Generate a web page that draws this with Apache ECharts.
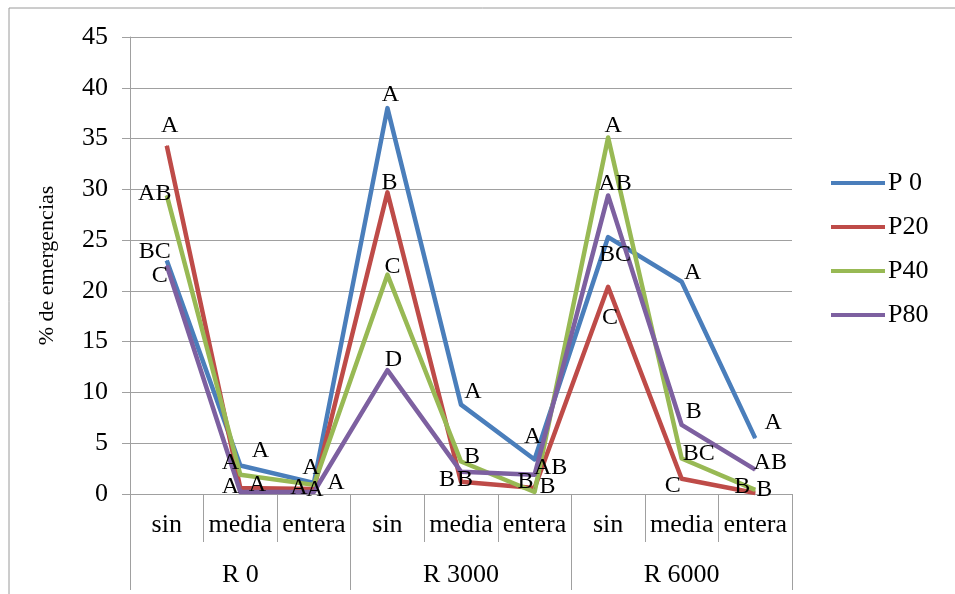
<!DOCTYPE html>
<html><head><meta charset="utf-8">
<script src="https://cdn.jsdelivr.net/npm/echarts@6/dist/echarts.min.js"></script>
<style>html,body{margin:0;padding:0;background:#fff}#c{width:955px;height:594px}</style>
</head><body><div id="c"></div>
<script>
const categories = ['sin','media','entera','sin','media','entera','sin','media','entera'];
const groups = ['R 0','R 3000','R 6000'];
const yTicks = [0,5,10,15,20,25,30,35,40,45];
const seriesNames = ['P 0','P20','P40','P80'];
const p0  = [23.0, 2.8, 1.1, 38.0, 8.8, 3.4, 25.3, 20.9, 5.5];
const p20 = [34.3, 0.6, 0.5, 29.7, 1.2, 0.6, 20.4, 1.5, 0.1];
const p40 = [29.4, 1.9, 0.9, 21.6, 3.2, 0.2, 35.1, 3.5, 0.4];
const p80 = [22.5, 0.2, 0.2, 12.2, 2.2, 1.9, 29.4, 6.8, 2.4];
const p0Letters  = ['BC','A','A','A','A','A','BC','A','A'];
const p20Letters = ['A','A','A','B','B','B','C','C','B'];
const p40Letters = ['AB','A','A','C','B','B','A','BC','B'];
const p80Letters = ['C','A','A','D','B','AB','AB','B','AB'];

// label offsets (layout only)
const offsets = [
  [[-12,-9],[20,-15],[-3,-15],[3,-13],[12,-13],[-2,-23],[7,18],[11,-9],[18,-15]],
  [[3,-20],[17,-3],[-15,-1],[2,-10],[-14,-2],[-9,-6],[2,31],[-9,7],[-13,-6]],
  [[-12,-2],[-10,-12],[22,-2],[5,-8],[11,-5],[13,-5],[5,-12],[17,-5],[9,0]],
  [[-7,10],[-10,-5],[1,-2],[6,-10],[4,8],[16,-7],[7,-12],[12,-13],[15,-7]]
];
const colors = ['#4A7EBB','#BE4B48','#98B954','#7D60A0'];
const values = [p0,p20,p40,p80];
const letters = [p0Letters,p20Letters,p40Letters,p80Letters];
const FONT = '"Liberation Serif", "DejaVu Serif", serif';

const chart = echarts.init(document.getElementById('c'), null, {renderer:'canvas'});
const series = seriesNames.map((n,si)=>({
  name:n, type:'line', xAxisIndex:0, yAxisIndex:0,
  symbol:'circle', symbolSize:1, showSymbol:true,
  lineStyle:{width:4.5, color:colors[si], join:'round'},
  itemStyle:{color:colors[si]},
  emphasis:{disabled:true},
  data: values[si].map((v,i)=>({
    value:v,
    label:{show:true, position:'inside', formatter:letters[si][i],
      offset:offsets[si][i], color:'#000', fontFamily:FONT, fontSize:24, align:'center', verticalAlign:'middle'}
  }))
}));

chart.setOption({
  animation:false,
  backgroundColor:'#fff',
  color:colors,
  graphic:[{type:'rect', shape:{x:9,y:8,width:1000,height:700}, style:{fill:null, stroke:'#9a9a9a', lineWidth:1}, silent:true, z:-1}],
  grid:{left:130, right:163, top:37, bottom:100, containLabel:false},
  legend:{orient:'vertical', left:831, top:170, padding:0, itemWidth:54, itemHeight:4, itemGap:18, icon:'rect',
    textStyle:{fontFamily:FONT, fontSize:26, color:'#000', padding:[0,0,0,-2]},
    data:seriesNames},
  xAxis:[{
    type:'category', data:categories, position:'bottom', boundaryGap:true,
    axisLine:{show:true, lineStyle:{color:'#a0a0a0', width:1}},
    axisTick:{show:true, length:48, interval:0, lineStyle:{color:'#a0a0a0'}},
    axisLabel:{interval:0, margin:18, color:'#000', fontFamily:FONT, fontSize:26},
    splitLine:{show:false}
  },{
    type:'category', data:groups, position:'bottom', boundaryGap:true,
    axisLine:{show:false},
    axisTick:{show:true, length:96, interval:0, lineStyle:{color:'#a0a0a0'}},
    axisLabel:{interval:0, margin:68, color:'#000', fontFamily:FONT, fontSize:26},
    splitLine:{show:false}
  }],
  yAxis:{
    type:'value', min:yTicks[0], max:yTicks[yTicks.length-1], interval:5,
    name:'% de emergencias', nameLocation:'middle', nameGap:72, nameRotate:90,
    nameTextStyle:{fontFamily:FONT, fontSize:22, color:'#000'},
    axisLine:{show:true, lineStyle:{color:'#a0a0a0'}},
    axisTick:{show:true, length:8, lineStyle:{color:'#a0a0a0'}},
    axisLabel:{margin:22, color:'#000', fontFamily:FONT, fontSize:26},
    splitLine:{show:true, lineStyle:{color:'#a0a0a0', width:1}}
  },
  series:series
});
</script></body></html>
